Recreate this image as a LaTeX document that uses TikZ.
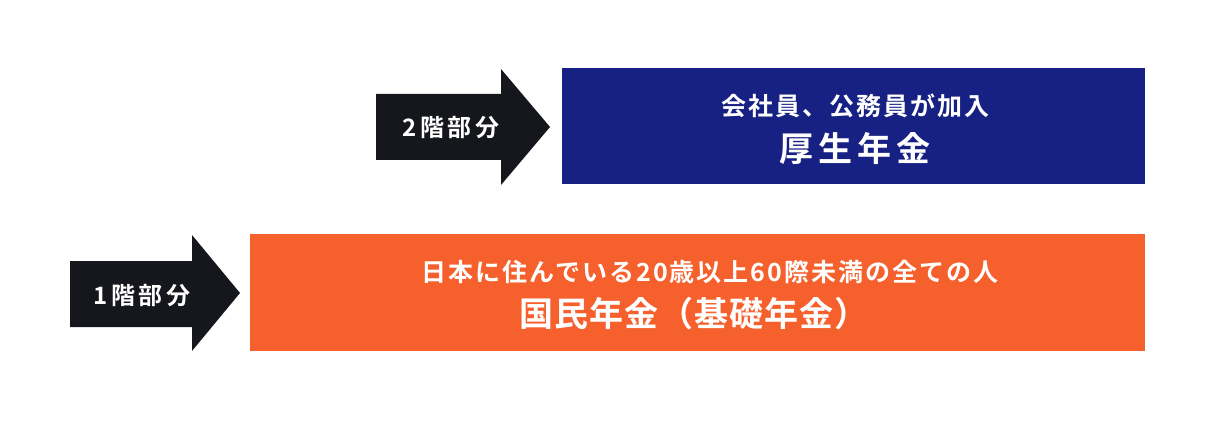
\documentclass[tikz,border=0pt]{standalone}
\usepackage{fontspec}
\newfontfamily\jp{Noto Sans CJK JP}[BoldFont={* Bold}]
\definecolor{navybox}{RGB}{23,32,131}
\definecolor{orangebox}{RGB}{245,96,44}
\definecolor{darkarrow}{RGB}{21,23,28}
\begin{document}
\begin{tikzpicture}[x=1pt,y=-1pt,
  boxstyle/.style={draw=none,minimum height=116pt,inner sep=0pt,anchor=north west},
  arrowshape/.style={fill=darkarrow,draw=none},
  labeltext/.style={text=white,font=\jp\bfseries\fontsize{24}{28}\selectfont\addfontfeature{LetterSpace=14},inner sep=0pt},
  smalltext/.style={text=white,font=\jp\bfseries\fontsize{25}{29}\selectfont\addfontfeature{LetterSpace=8},inner sep=0pt},
  bigtext/.style={text=white,font=\jp\bfseries\fontsize{34}{40}\selectfont\addfontfeature{LetterSpace=3},inner sep=0pt}]
\useasboundingbox (0,0) rectangle (1206,422);
% boxes
\node[boxstyle,fill=navybox,minimum width=583pt] (kosei) at (562,68) {};
\node[boxstyle,fill=orangebox,minimum width=895pt,minimum height=117pt] (kokumin) at (250,234) {};
% arrows
\fill[arrowshape] (376,94) -- (501,94) -- (501,69) -- (550,127) -- (501,185) -- (501,160) -- (376,160) -- cycle;
\fill[arrowshape] (70,261) -- (192,261) -- (192,235) -- (240,293) -- (192,351) -- (192,327) -- (70,327) -- cycle;
% texts
\node[labeltext] (lab2) at (451,128) {2階部分};
\node[labeltext] (lab1) at (142,296) {1階部分};
\node[smalltext] (kosei1) at (855,106) {会社員、公務員が加入};
\node[bigtext,font=\jp\bfseries\fontsize{34}{40}\selectfont\addfontfeature{LetterSpace=14}] (kosei2) at (855,149) {厚生年金};
\node[smalltext] (kokumin1) at (710,272) {日本に住んでいる20歳以上60際未満の全ての人};
\node[bigtext] (kokumin2) at (694,314) {国民年金（基礎年金）};
\end{tikzpicture}
\end{document}
